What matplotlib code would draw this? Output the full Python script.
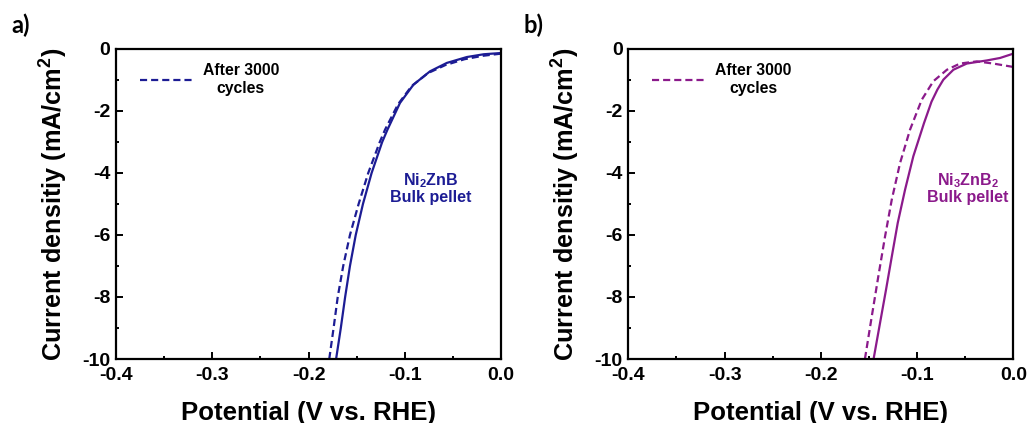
import matplotlib.pyplot as plt
from matplotlib.ticker import MultipleLocator

plt.rcParams['font.family'] = ['Liberation Sans', 'DejaVu Sans']
plt.rcParams['font.weight'] = 'bold'
plt.rcParams['mathtext.fontset'] = 'custom'
plt.rcParams['mathtext.bf'] = 'Liberation Sans:bold'
plt.rcParams['mathtext.rm'] = 'Liberation Sans:bold'

NAVY = '#1c1c94'
PURPLE = '#8b1a8b'

# Ni2ZnB bulk pellet, initial LSV
ni2_v = [-0.1714, -0.1665, -0.162, -0.157, -0.151, -0.1435, -0.1345, -0.1235, -0.118,
         -0.105, -0.091, -0.0738, -0.0564, -0.0356, -0.018, 0.0]
ni2_j = [-10.0, -9.0, -8.0, -7.0, -6.0, -5.0, -4.0, -3.0, -2.6,
         -1.74, -1.15, -0.72, -0.45, -0.26, -0.17, -0.13]
# Ni2ZnB bulk pellet, after 3000 cycles
ni2c_v = [-0.1785, -0.174, -0.1697, -0.164, -0.157, -0.148, -0.138, -0.126, -0.1205,
          -0.107, -0.093, -0.076, -0.058, -0.038, -0.019, 0.0]
ni2c_j = [-10.0, -9.0, -8.0, -7.0, -6.0, -5.0, -4.0, -3.0, -2.6,
          -1.78, -1.2, -0.78, -0.52, -0.33, -0.22, -0.15]

# Ni3ZnB2 bulk pellet, initial LSV
ni3_v = [-0.1452, -0.1385, -0.1323, -0.1263, -0.1201, -0.1125, -0.1039, -0.0928,
         -0.0850, -0.0789, -0.0727, -0.0623, -0.0484, -0.0276, -0.0138, 0.0]
ni3_j = [-10.0, -8.84, -7.77, -6.70, -5.61, -4.54, -3.46, -2.39,
         -1.70, -1.31, -0.99, -0.67, -0.47, -0.37, -0.29, -0.15]
# Ni3ZnB2 bulk pellet, after 3000 cycles
ni3c_v = [-0.1542, -0.1471, -0.1403, -0.1333, -0.1263, -0.1177, -0.1073, -0.0952,
          -0.0831, -0.069, -0.0554, -0.038, -0.0208, 0.0]
ni3c_j = [-10.0, -8.63, -7.34, -6.05, -4.86, -3.68, -2.60, -1.64,
          -1.04, -0.67, -0.47, -0.40, -0.47, -0.58]

panels = [
    ('a)', ni2_v, ni2_j, ni2c_v, ni2c_j, NAVY, r'Ni$_\mathbf{2}$ZnB' + '\nBulk pellet', 0.817),
    ('b)', ni3_v, ni3_j, ni3c_v, ni3c_j, PURPLE,
     r'Ni$_\mathbf{3}$ZnB$_\mathbf{2}$' + '\nBulk pellet', 0.881),
]

fig = plt.figure(figsize=(10.27, 4.23), dpi=100)
lefts = [0.1130, 0.6118]

for left, (tag, v, j, vc, jc, col, name, nx) in zip(lefts, panels):
    ax = fig.add_axes([left, 0.1513, 0.3749, 0.7329])
    ax.plot(v, j, color=col, lw=1.6)
    ax.plot(vc, jc, color=col, lw=1.6, ls=(0, (3.2, 1.8)), label='After 3000\ncycles')

    ax.set_xlim(-0.4, 0.0)
    ax.set_ylim(-10, 0)
    ax.xaxis.set_major_locator(MultipleLocator(0.1))
    ax.xaxis.set_minor_locator(MultipleLocator(0.05))
    ax.yaxis.set_major_locator(MultipleLocator(2))
    ax.yaxis.set_minor_locator(MultipleLocator(1))
    ax.xaxis.set_major_formatter(plt.FuncFormatter(lambda x, p: f'{x:.1f}'))
    ax.yaxis.set_major_formatter(plt.FuncFormatter(lambda y, p: f'{y:.0f}'))
    ax.tick_params(which='both', direction='in', labelsize=14, width=1.4)
    ax.tick_params(which='major', length=5)
    ax.tick_params(axis='x', which='major', pad=6)
    ax.tick_params(axis='y', which='major', pad=4)
    ax.tick_params(which='minor', length=2.5)
    for s in ax.spines.values():
        s.set_linewidth(1.6)

    ax.set_xlabel('Potential (V vs. RHE)', fontsize=18.5, fontweight='bold', labelpad=12)
    ax.set_ylabel(r'Current densitiy (mA/cm$^\mathbf{2}$)', fontsize=18.2,
                  fontweight='bold', labelpad=9)

    leg = ax.legend(loc='upper left', frameon=False, fontsize=11.3, handlelength=3.4,
                    handletextpad=0.6, bbox_to_anchor=(0.025, 1.0))
    for t in leg.get_texts():
        t.set_multialignment('center')
        t.set_fontweight('bold')

    ax.text(nx, 0.552, name, transform=ax.transAxes, color=col, fontsize=11.5,
            fontweight='bold', ha='center', va='center', linespacing=1.0)

    fig.text(left - 0.102, 0.94, tag, fontsize=17, fontweight='bold',
             family=['Lato', 'DejaVu Sans'], ha='left', va='center')

fig.savefig('out.png', dpi=100)
